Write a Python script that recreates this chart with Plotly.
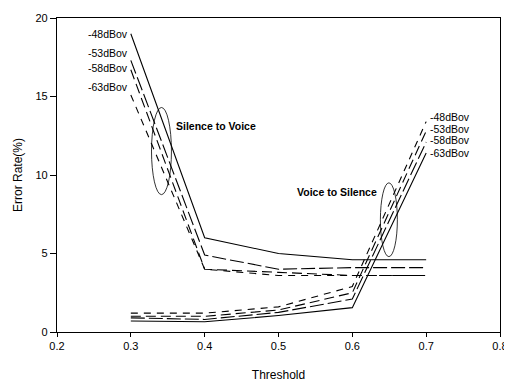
import plotly.graph_objects as go

thresholds = [0.3, 0.4, 0.5, 0.6, 0.7]
levels = ["-48dBov", "-53dBov", "-58dBov", "-63dBov"]

# Silence to Voice error rate (%)
s2v_48 = [19.0, 6.0, 5.0, 4.6, 4.6]
s2v_53 = [17.3, 4.9, 4.0, 4.1, 4.1]
s2v_58 = [16.7, 4.0, 3.8, 3.6, 3.6]
s2v_63 = [15.1, 4.0, 3.6, 3.6, 3.6]

# Voice to Silence error rate (%)
v2s_48 = [1.2, 1.2, 1.6, 2.9, 13.4]
v2s_53 = [1.0, 1.0, 1.4, 2.5, 12.8]
v2s_58 = [0.9, 0.8, 1.25, 2.1, 12.1]
v2s_63 = [0.7, 0.65, 1.05, 1.55, 11.4]

x_ticks = [0.2, 0.3, 0.4, 0.5, 0.6, 0.7, 0.8]
x_tick_labels = ["0.2", "0.3", "0.4", "0.5", "0.6", "0.7", "0.8"]
y_ticks = [0, 5, 10, 15, 20]

dashes = ["solid", "14px,4px", "10px,5px", "7px,6px"]
v2s_dashes = ["7px,6px", "10px,5px", "14px,4px", "solid"]

fig = go.Figure()
for name, ys, d in zip(levels, [s2v_48, s2v_53, s2v_58, s2v_63], dashes):
    fig.add_trace(go.Scatter(x=thresholds, y=ys, mode="lines", name=name,
                             line=dict(color="black", width=1.1, dash=d),
                             showlegend=False))
for name, ys, d in zip(levels, [v2s_48, v2s_53, v2s_58, v2s_63], v2s_dashes):
    fig.add_trace(go.Scatter(x=thresholds, y=ys, mode="lines", name=name,
                             line=dict(color="black", width=1.1, dash=d),
                             showlegend=False))

font = "Liberation Sans, Arial, sans-serif"
anns = []
# left labels (start of Silence to Voice lines)
for name, y in zip(levels, [19.0, 17.8, 16.8, 15.6]):
    anns.append(dict(x=0.3, y=y, xref="x", yref="y", text=name, showarrow=False,
                     xanchor="right", xshift=-1, font=dict(size=10.5, color="black", family=font)))
# right labels (end of Voice to Silence lines)
for name, y in zip(levels, [13.7, 12.9, 12.2, 11.4]):
    anns.append(dict(x=0.7, y=y, xref="x", yref="y", text=name, showarrow=False,
                     xanchor="left", xshift=2, font=dict(size=10.5, color="black", family=font)))
anns.append(dict(x=0.358, y=13.1, xref="x", yref="y", text="<b>Silence to Voice</b>",
                 showarrow=False, xanchor="left", font=dict(size=10.5, color="black", family=font)))
anns.append(dict(x=0.636, y=8.9, xref="x", yref="y", text="<b>Voice to Silence</b>",
                 showarrow=False, xanchor="right", font=dict(size=10.5, color="black", family=font)))

shapes = [
    dict(type="circle", xref="x", yref="y", x0=0.328, x1=0.355, y0=8.75, y1=14.3,
         line=dict(color="black", width=0.8)),
    dict(type="circle", xref="x", yref="y", x0=0.638, x1=0.661, y0=4.8, y1=9.5,
         line=dict(color="black", width=0.8)),
]

fig.update_layout(
    width=504, height=377,
    margin=dict(l=49, r=10, t=4, b=53),
    plot_bgcolor="white", paper_bgcolor="white",
    font=dict(family=font, size=11, color="black"),
    annotations=anns, shapes=shapes,
    xaxis=dict(range=[0.2, 0.8], tickvals=x_ticks, ticktext=x_tick_labels,
               showgrid=False, zeroline=False, showline=True, linecolor="black",
               linewidth=1.2, mirror=True, ticks="outside", ticklen=4,
               tickcolor="black", tickfont=dict(size=11), ticklabeloverflow="allow",
               title=dict(text="Threshold", font=dict(size=12), standoff=19)),
    yaxis=dict(range=[0, 20], tickvals=y_ticks, showgrid=False, zeroline=False,
               showline=True, linecolor="black", linewidth=1.2, mirror=True,
               ticks="outside", ticklen=6, tickcolor="black", tickfont=dict(size=11),
               ticklabeloverflow="allow",
               title=dict(text="Error Rate(%)", font=dict(size=12), standoff=10)),
)

fig.write_html("out.html")
